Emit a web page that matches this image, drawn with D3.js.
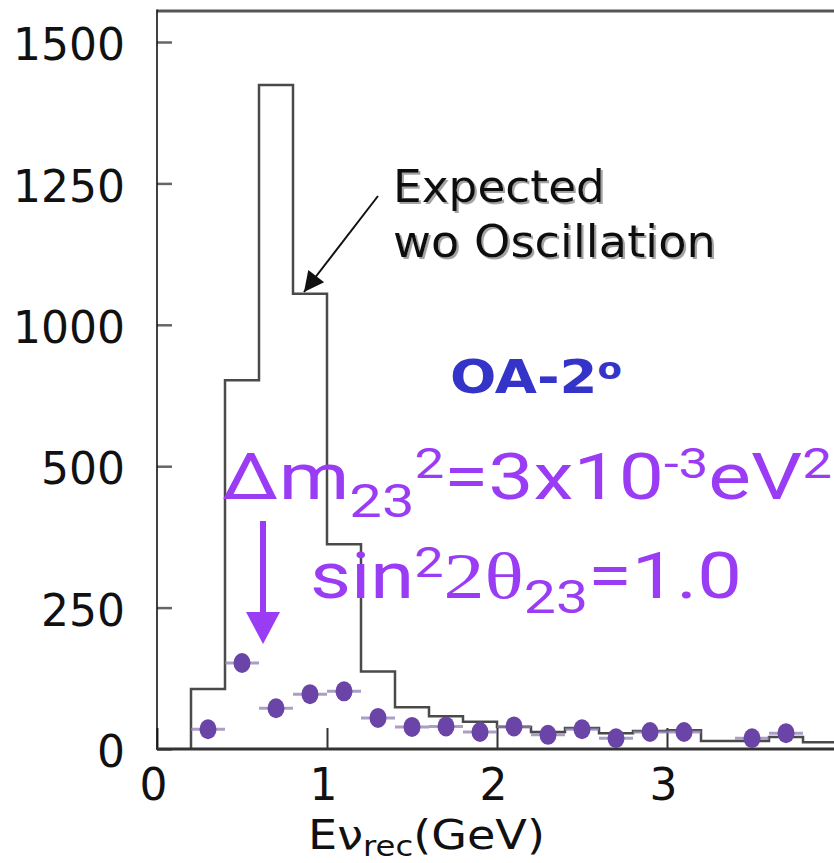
<!DOCTYPE html>
<html><head><meta charset="utf-8">
<script src="https://cdn.jsdelivr.net/npm/d3@7"></script>
<style>html,body{margin:0;padding:0;background:#fff;}svg{display:block;}</style>
</head><body>
<svg id="c" width="834" height="863"></svg>
<script>
// ---- data ----
const yTickValues = [0, 250, 500, 1000, 1250, 1500];
const yTickLabels = ["0", "250", "500", "1000", "1250", "1500"];
const xTickValues = [0, 1, 2, 3];
const binEdges = [0.2,0.4,0.6,0.8,1.0,1.2,1.4,1.6,1.8,2.0,2.2,2.4,2.6,2.8,3.0,3.2,3.4,3.6,3.8];
const expectedNoOsc = [106,804,1424,1055,362,137,74,58,48,39,30,37,28,32,33,14,14,21,12];
const binWidth = 0.2;
const dataX = [0.3,0.5,0.7,0.9,1.1,1.3,1.5,1.7,1.9,2.1,2.3,2.5,2.7,2.9,3.1,3.5,3.7];
const dataY = [35,152,72,97,102,55,39,40,30,40,25,35,19,30,30,19,28];

const svg = d3.select("#c");
const X0 = 157, X1 = 837, YB = 749, YT = 42;
const x = d3.scaleLinear().domain([0, 4]).range([X0, X1]);
// evenly spaced tick positions as in the figure (piecewise-linear)
const yRange = yTickValues.map((v, i) => YB - i * (YB - YT) / (yTickValues.length - 1));
const y = d3.scaleLinear().domain(yTickValues).range(yRange);

const black = "#111";
const purple = "#9b3cf5";

const defs = svg.append("defs");
const f = defs.append("filter").attr("id", "sh").attr("x", "-5%").attr("y", "-20%")
  .attr("width", "115%").attr("height", "150%");
f.append("feDropShadow").attr("dx", 2).attr("dy", 2).attr("stdDeviation", 0.6)
  .attr("flood-color", "#999").attr("flood-opacity", 0.9);

// y axis (inward ticks)
const yAx = svg.append("g").attr("transform", `translate(${X0},0)`)
  .call(d3.axisLeft(y).tickValues(yTickValues)
    .tickFormat((d, i) => yTickLabels[i]).tickSizeInner(-15).tickSizeOuter(0).tickPadding(32));
yAx.select(".domain").remove();
yAx.selectAll(".tick line").attr("stroke", "#666").attr("stroke-width", 2.5);
yAx.selectAll(".tick text").attr("font-family", "DejaVu Sans").attr("font-size", 44)
  .attr("fill", black).attr("dy", "0.4em");

// x axis (inward ticks)
const xAx = svg.append("g").attr("transform", `translate(0,${YB})`)
  .call(d3.axisBottom(x).tickValues(xTickValues).tickFormat(d3.format("d"))
    .tickSizeInner(-21).tickSizeOuter(0).tickPadding(20));
xAx.select(".domain").remove();
xAx.selectAll(".tick line").attr("stroke", "#333").attr("stroke-width", 2);
xAx.selectAll(".tick text").attr("font-family", "DejaVu Sans").attr("font-size", 44)
  .attr("fill", black).attr("dx", -4);

// frame
svg.append("line").attr("x1", X0).attr("x2", 834).attr("y1", 11).attr("y2", 11)
  .attr("stroke", "#555").attr("stroke-width", 3);
svg.append("line").attr("x1", X0).attr("x2", X0).attr("y1", 9.5).attr("y2", YB + 1)
  .attr("stroke", "#111").attr("stroke-width", 1.6);

// expected histogram
const pts = [[binEdges[0], 0]];
binEdges.forEach((e, i) => pts.push([e, expectedNoOsc[i]]));
pts.push([binEdges[binEdges.length - 1] + binWidth, expectedNoOsc[expectedNoOsc.length - 1]]);
svg.append("path")
  .attr("d", d3.line().x(d => x(d[0])).y(d => y(d[1])).curve(d3.curveStepAfter)(pts))
  .attr("fill", "none").attr("stroke", "#4a4a4a").attr("stroke-width", 2.5);

// bottom axis line
svg.append("line").attr("x1", X0).attr("x2", 834).attr("y1", YB).attr("y2", YB)
  .attr("stroke", "#333").attr("stroke-width", 3);

// data points with horizontal error bars
const pg = svg.append("g");
pg.selectAll("line.eb").data(dataX).join("line").attr("class", "eb")
  .attr("x1", (d) => x(d - binWidth / 2)).attr("x2", (d) => x(d + binWidth / 2))
  .attr("y1", (d, i) => y(dataY[i])).attr("y2", (d, i) => y(dataY[i]))
  .attr("stroke", "#8f7fb5").attr("stroke-width", 3).attr("opacity", 0.75);
pg.selectAll("ellipse").data(dataX).join("ellipse")
  .attr("cx", d => x(d)).attr("cy", (d, i) => y(dataY[i]))
  .attr("rx", 8.5).attr("ry", 10).attr("fill", "#6a44a6");

// helper: fit text horizontally between x0 and x1
function fit(t, x0, x1) {
  const bb = t.node().getBBox();
  const s = (x1 - x0) / bb.width;
  t.attr("transform", `translate(${x0},0) scale(${s},1) translate(${-bb.x},0)`);
}

// annotation "Expected wo Oscillation" (with drop shadow)
[["Expected", 202, 605], ["wo Oscillation", 257, 716]].forEach(([s, by, xe]) => {
  const t = svg.append("text").attr("x", 0).attr("y", by).text(s)
    .attr("font-family", "DejaVu Sans").attr("font-size", 45).attr("fill", black)
    .attr("filter", "url(#sh)");
  fit(t, 393, xe);
});
// annotation arrow
defs.append("marker").attr("id", "ah").attr("viewBox", "0 0 10 10").attr("refX", 10).attr("refY", 5)
  .attr("markerWidth", 24).attr("markerHeight", 20).attr("markerUnits", "userSpaceOnUse")
  .attr("orient", "auto")
  .append("path").attr("d", "M0,0 L10,5 L0,10 Z").attr("fill", black);
svg.append("line").attr("x1", 378).attr("y1", 196).attr("x2", 304).attr("y2", 292)
  .attr("stroke", black).attr("stroke-width", 2).attr("marker-end", "url(#ah)");

// OA-2º
const oa = svg.append("text").attr("x", 0).attr("y", 393)
  .attr("font-family", "DejaVu Sans").attr("font-weight", "bold").attr("font-size", 46)
  .attr("fill", "#3434c8");
oa.append("tspan").text("OA-2");
oa.append("tspan").attr("font-size", 30).attr("dy", -14).text("o");
fit(oa, 450, 622);

// Δm line
const t1 = svg.append("text").attr("x", 0).attr("y", 499)
  .attr("font-family", "Roboto").attr("font-size", 64).attr("fill", purple);
t1.append("tspan").text("Δm");
t1.append("tspan").attr("font-size", 46).attr("dy", 18).text("23");
t1.append("tspan").attr("font-size", 42).attr("dy", -39).text("2");
t1.append("tspan").attr("dy", 21).text("=3x10");
t1.append("tspan").attr("font-size", 42).attr("dy", -21).text("-3");
t1.append("tspan").attr("dy", 21).text("eV");
t1.append("tspan").attr("font-size", 42).attr("dy", -21).text("2");
fit(t1, 222, 832);

// sin line
const t2 = svg.append("text").attr("x", 0).attr("y", 598)
  .attr("font-family", "Roboto").attr("font-size", 64).attr("fill", purple);
t2.append("tspan").text("sin");
t2.append("tspan").attr("font-size", 42).attr("dy", -21).text("2");
t2.append("tspan").attr("dy", 21).attr("font-family", "Liberation Serif").attr("font-size", 66).text("2θ");
t2.append("tspan").attr("font-size", 46).attr("dy", 15).text("23");
t2.append("tspan").attr("dy", -15).text("=1.0");
fit(t2, 310, 742);

// purple arrow
svg.append("line").attr("x1", 263).attr("x2", 263).attr("y1", 521).attr("y2", 614)
  .attr("stroke", purple).attr("stroke-width", 6);
svg.append("path").attr("d", "M246,612 L280,612 L263,644 Z").attr("fill", purple);

// x axis title
const xt = svg.append("text").attr("x", 0).attr("y", 849)
  .attr("font-family", "DejaVu Sans").attr("font-size", 40).attr("fill", black);
xt.append("tspan").text("Eν");
xt.append("tspan").attr("font-size", 28).attr("dy", 7).text("rec");
xt.append("tspan").attr("dy", -7).text("(GeV)");
fit(xt, 308, 545);
</script>
</body></html>
